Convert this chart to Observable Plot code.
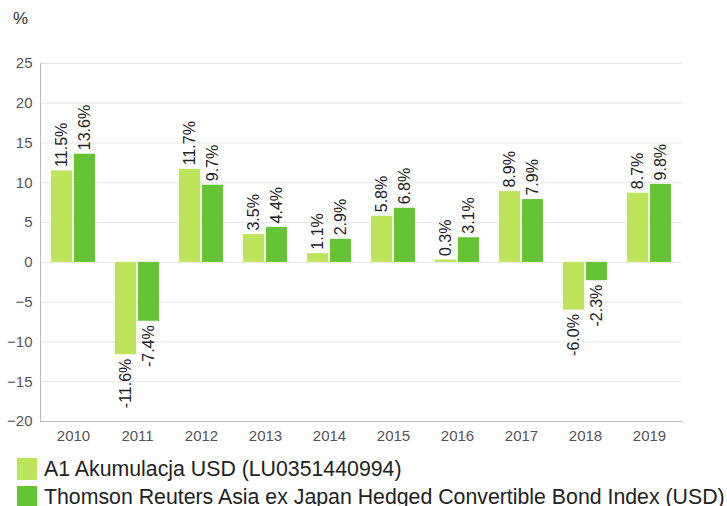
<!DOCTYPE html>
<html>
<head>
<meta charset="utf-8">
<script src="https://cdn.jsdelivr.net/npm/d3@7"></script>
<script src="https://cdn.jsdelivr.net/npm/@observablehq/plot@0.6"></script>
<style>
  html, body { margin: 0; padding: 0; background: #fff; }
  body { width: 727px; height: 506px; position: relative; overflow: hidden; font-family: "Liberation Sans", Arial, sans-serif; }
  #unit { position: absolute; left: 13px; top: 9px; font-size: 17px; color: #333; }
  #chart { position: absolute; left: 0; top: 0; }
  .legend { position: absolute; left: 17px; font-size: 21.3px; color: #222; display: flex; align-items: center; white-space: nowrap; height: 22px; }
  .legend .sw { width: 20px; height: 22px; margin-right: 7px; display: inline-block; flex: none; }
</style>
</head>
<body>
<div id="chart"></div>
<div id="unit">%</div>
<div id="legend"></div>
<script>
const years = ["2010", "2011", "2012", "2013", "2014", "2015", "2016", "2017", "2018", "2019"];
const fundValues = [11.5, -11.6, 11.7, 3.5, 1.1, 5.8, 0.3, 8.9, -6.0, 8.7];
const indexValues = [13.6, -7.4, 9.7, 4.4, 2.9, 6.8, 3.1, 7.9, -2.3, 9.8];
const seriesNames = ["A1 Akumulacja USD (LU0351440994)", "Thomson Reuters Asia ex Japan Hedged Convertible Bond Index (USD)"];
const seriesColors = ["#bce55c", "#64c434"];
const yTicks = [-20, -15, -10, -5, 0, 5, 10, 15, 20, 25];

const fund = years.map((y, i) => ({year: y, value: fundValues[i]}));
const index = years.map((y, i) => ({year: y, value: indexValues[i]}));
const fmt = d => d.value.toFixed(1) + "%";
const half = 22.9, off = 11.6;

function labels(data, dx) {
  return [
    Plot.text(data.filter(d => d.value >= 0), {x: "year", y: "value", text: fmt, rotate: -90, textAnchor: "start", dx, dy: -4, fill: "#222", fontSize: 16}),
    Plot.text(data.filter(d => d.value < 0), {x: "year", y: "value", text: fmt, rotate: -90, textAnchor: "end", dx, dy: 4, fill: "#222", fontSize: 16})
  ];
}

const chart = Plot.plot({
  width: 727, height: 452,
  marginLeft: 40, marginRight: 45, marginTop: 63, marginBottom: 31,
  style: {fontFamily: "'Liberation Sans', Arial, sans-serif", fontSize: "15px", color: "#555", background: "white"},
  x: {domain: years, paddingInner: 0.31, paddingOuter: 0.155, label: null},
  y: {domain: [-20, 25], label: null},
  marks: [
    Plot.gridY(yTicks, {stroke: "#e6e6e6", strokeOpacity: 1}),
    Plot.barY(fund, {x: "year", y: "value", fill: seriesColors[0], insetRight: half}),
    Plot.barY(index, {x: "year", y: "value", fill: seriesColors[1], insetLeft: half}),
    ...labels(fund, -off),
    ...labels(index, off),
    Plot.ruleY([-20], {stroke: "#bbb"}),
    Plot.frame({anchor: "left", stroke: "#bbb"}),
    Plot.axisY(yTicks, {tickSize: 0, tickPadding: 8, fill: "#555", fontSize: 15}),
    Plot.axisX({tickSize: 0, tickPadding: 9, fill: "#555", fontSize: 15})
  ]
});
document.getElementById("chart").appendChild(chart);

const legend = document.getElementById("legend");
seriesNames.forEach((name, i) => {
  const row = document.createElement("div");
  row.className = "legend";
  row.style.top = (458 + i * 28) + "px";
  const sw = document.createElement("span");
  sw.className = "sw";
  sw.style.background = seriesColors[i];
  const t = document.createElement("span");
  t.textContent = name;
  row.appendChild(sw);
  row.appendChild(t);
  legend.appendChild(row);
});
</script>
</body>
</html>
